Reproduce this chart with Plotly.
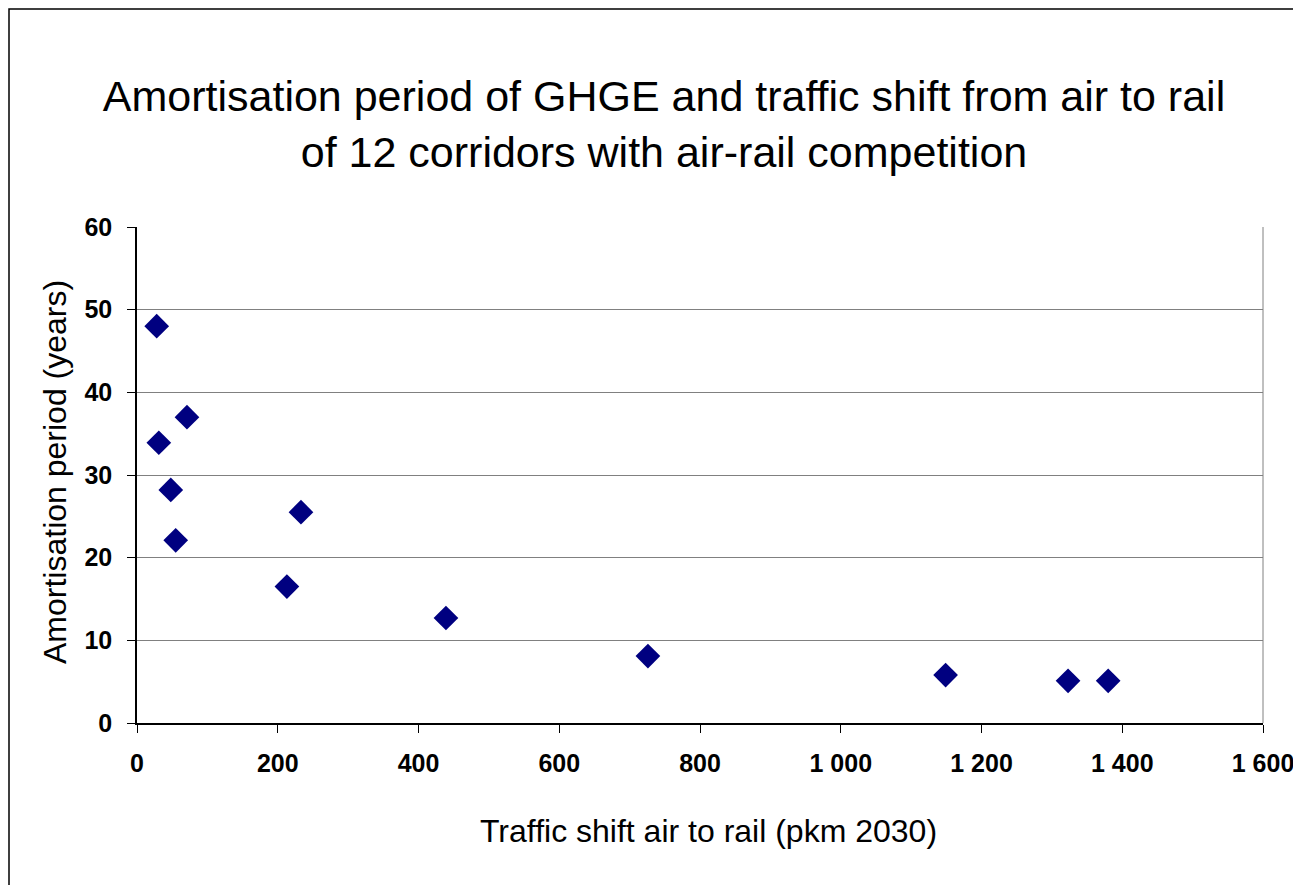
import plotly.graph_objects as go

# traffic shift air to rail (pkm 2030) and amortisation period (years), 12 corridors
traffic_shift = [28, 31, 71, 48, 55, 213, 233, 439, 726, 1149, 1323, 1380]
amortisation_years = [48.0, 33.9, 37.0, 28.2, 22.1, 16.5, 25.5, 12.7, 8.1, 5.8, 5.1, 5.1]

x_ticks = [0, 200, 400, 600, 800, 1000, 1200, 1400, 1600]
x_tick_labels = ["0", "200", "400", "600", "800", "1 000", "1 200", "1 400", "1 600"]
y_ticks = [0, 10, 20, 30, 40, 50, 60]

OFF = 8  # page body margin in the browser
W, H = 1301, 885
# plot area, in screen pixels
L, R, T, B = 137, 1263, 227, 723


def px_x(p):
    return (p - L) / (R - L)


def px_y(p):
    return (B - p) / (B - T)


fig = go.Figure()
fig.add_trace(go.Scatter(
    x=traffic_shift,
    y=amortisation_years,
    mode="markers",
    marker=dict(symbol="diamond", size=19, color="#000080", line=dict(width=0)),
    showlegend=False,
))

tick_font = dict(family="Liberation Sans, Arial", size=25, color="black", weight="bold")
text_font = "Liberation Sans, Arial"

fig.update_xaxes(
    range=[0, 1600], tickvals=x_ticks, ticktext=x_tick_labels,
    showgrid=False, zeroline=False, automargin=False,
    showline=True, linecolor="black", linewidth=1.5,
    ticks="outside", ticklen=8, tickcolor="black", tickwidth=1,
    ticklabelstandoff=9,
    tickfont=tick_font,
)
fig.update_yaxes(
    range=[0, 60], tickvals=y_ticks,
    showgrid=True, gridcolor="#808080", gridwidth=1,
    zeroline=False, automargin=False,
    showline=True, linecolor="black", linewidth=1.5,
    ticks="outside", ticklen=8, tickcolor="black", tickwidth=1,
    ticklabelstandoff=10,
    tickfont=tick_font,
)

# right edge of plot area (grey, like the grid)
fig.add_shape(type="line", xref="paper", yref="paper", x0=1, x1=1, y0=0, y1=1,
              line=dict(color="#808080", width=1))
# outer chart frame
fig.add_shape(type="rect", xref="paper", yref="paper",
              x0=px_x(9), y0=-1, x1=2, y1=px_y(9),
              line=dict(color="black", width=1.5))

fig.add_annotation(text="Traffic shift air to rail (pkm 2030)", xref="paper", yref="paper",
                   x=px_x(708), y=px_y(831), xanchor="center", yanchor="middle",
                   showarrow=False,
                   font=dict(family=text_font, size=32, color="black"))
fig.add_annotation(text="Amortisation period (years)", xref="paper", yref="paper",
                   x=px_x(55), y=px_y(472), xanchor="center", yanchor="middle",
                   showarrow=False, textangle=-90,
                   font=dict(family=text_font, size=32, color="black"))

fig.update_layout(
    width=W, height=H,
    margin=dict(l=L - OFF, r=W - R + OFF, t=T - OFF, b=H - B + OFF),
    paper_bgcolor="white", plot_bgcolor="white",
    title=dict(
        text="Amortisation period of GHGE and traffic shift from air to rail<br>of 12 corridors with air-rail competition",
        xref="container", yref="container", x=(664 - OFF) / W, y=1 - (111 - OFF) / H,
        xanchor="center", yanchor="middle",
        font=dict(family=text_font, size=43, color="black"),
    ),
)

fig.write_html("out.html")
